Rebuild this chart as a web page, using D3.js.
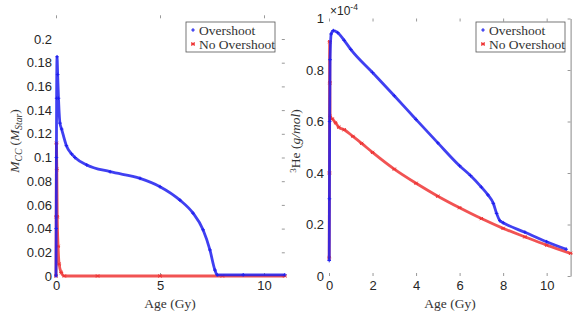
<!DOCTYPE html>
<html>
<head>
<meta charset="utf-8">
<script src="https://cdn.jsdelivr.net/npm/d3@7"></script>
<style>
  body { margin: 0; background: #fff; }
  svg { display: block; }
  .tick text { font-family: "Liberation Sans", Arial, sans-serif; font-size: 13px; fill: #262626; }
  .lab { font-family: "Liberation Serif", "Times New Roman", serif; font-size: 13.5px; fill: #333; }
</style>
</head>
<body>
<div id="chart"></div>
<script>
// ---- data ----
// left panel: convective core mass (M_star) vs age (Gy)
var ccOverAge = [0, 0.01, 0.02, 0.03, 0.05, 0.08, 0.12, 0.19, 0.27, 0.5, 0.75, 0.91, 1.48, 2.6, 4.04, 5.0, 5.96, 6.59, 7.07, 7.4, 7.64, 7.75, 9, 11];
var ccOverVal = [0, 0.04, 0.1, 0.15, 0.185, 0.17, 0.15, 0.129, 0.124, 0.11, 0.103, 0.1, 0.0937, 0.088, 0.0824, 0.0754, 0.064, 0.053, 0.039, 0.022, 0.005, 0.001, 0.001, 0.001];
var ccNoAge = [0, 0.01, 0.02, 0.04, 0.06, 0.1, 0.15, 0.25, 0.4, 2, 5, 8, 11];
var ccNoVal = [0, 0.05, 0.112, 0.09, 0.05, 0.025, 0.01, 0.003, 0, 0, 0, 0, 0];

// right panel: 3He (g/mol), in units of 1e-4, vs age (Gy)
var heOverAge = [0.01, 0.02, 0.03, 0.05, 0.1, 0.2, 0.4, 0.7, 1, 2, 3, 4, 5, 6, 6.5, 7, 7.3, 7.55, 7.7, 7.85, 8, 9, 10, 10.9];
var heOverVal = [0.06, 0.3, 0.6, 0.84, 0.94, 0.953, 0.945, 0.915, 0.88, 0.79, 0.7, 0.608, 0.517, 0.428, 0.39, 0.345, 0.315, 0.282, 0.243, 0.215, 0.207, 0.17, 0.133, 0.104];
var heNoAge = [0.01, 0.02, 0.03, 0.04, 0.05, 0.15, 0.3, 0.45, 0.7, 1.1, 1.5, 2, 3, 4, 5, 6, 7, 8, 9, 10, 11.1];
var heNoVal = [0.07, 0.4, 0.91, 0.75, 0.62, 0.61, 0.595, 0.578, 0.568, 0.542, 0.515, 0.48, 0.415, 0.36, 0.31, 0.265, 0.223, 0.185, 0.152, 0.12, 0.088];

var leftYTicks = [0, 0.02, 0.04, 0.06, 0.08, 0.1, 0.12, 0.14, 0.16, 0.18, 0.2];
var leftXTicks = [0, 5, 10];
var rightYTicks = [0, 0.2, 0.4, 0.6, 0.8, 1];
var rightXTicks = [0, 2, 4, 6, 8, 10];
var seriesNames = ["Overshoot", "No Overshoot"];

var blue = "#1f1fee", red = "#ee3535";

var width = 581, height = 314;
var svg = d3.select("#chart").append("svg")
    .attr("width", width)
    .attr("height", height);

function zip(a, b) { return a.map(function (d, i) { return [d, b[i]]; }); }

function panel(opt) {
  var x = d3.scaleLinear().domain(opt.xdom).range(opt.xr);
  var y = d3.scaleLinear().domain(opt.ydom).range(opt.yr);
  var g = svg.append("g");

  // bottom axis
  g.append("g")
    .attr("class", "x axis")
    .attr("transform", "translate(0," + opt.yr[0] + ")")
    .call(d3.axisBottom(x).tickValues(opt.xt).tickSizeInner(-3).tickSizeOuter(0).tickPadding(5).tickFormat(d3.format("d")))
    .call(function (s) { s.select(".domain").remove(); s.selectAll("line").attr("stroke", "#999"); });
  // top ticks
  g.append("g")
    .attr("transform", "translate(0," + opt.yr[1] + ")")
    .call(d3.axisTop(x).tickValues(opt.xt).tickSizeInner(-3).tickSizeOuter(0).tickFormat(""))
    .call(function (s) { s.select(".domain").remove(); s.selectAll("line").attr("stroke", "#999"); });
  // left axis
  g.append("g")
    .attr("class", "y axis")
    .attr("transform", "translate(" + opt.xr[0] + ",0)")
    .call(d3.axisLeft(y).tickValues(opt.yt).tickSizeInner(0).tickSizeOuter(0).tickPadding(opt.ypad).tickFormat(opt.yfmt))
    .call(function (s) { s.select(".domain").remove(); });
  // right ticks
  g.append("g")
    .attr("transform", "translate(" + opt.xr[1] + ",0)")
    .call(d3.axisRight(y).tickValues(opt.yt).tickSizeInner(-3).tickSizeOuter(0).tickFormat(""))
    .call(function (s) {
      s.select(".domain").attr("stroke", opt.rightLine ? "#888" : "none");
      s.selectAll("line").attr("stroke", "#999");
    });

  var line = d3.line()
    .curve(d3.curveMonotoneX)
    .x(function (d) { return x(d[0]); })
    .y(function (d) { return y(d[1]); });

  function series(data, color, kind) {
    g.append("path")
      .datum(data)
      .attr("d", line)
      .attr("fill", "none")
      .attr("stroke", color)
      .attr("stroke-opacity", 0.85)
      .attr("stroke-width", 2.8);
    g.append("g").selectAll("path.m")
      .data(data)
      .enter().append("path")
      .attr("class", "m")
      .attr("transform", function (d) { return "translate(" + x(d[0]) + "," + y(d[1]) + ")"; })
      .attr("d", kind === "plus" ? "M-1.8,0H1.8M0,-1.8V1.8" : "M-1.6,-1.6L1.6,1.6M-1.6,1.6L1.6,-1.6M-2,0H2")
      .attr("stroke", color)
      .attr("stroke-width", 1)
      .attr("fill", "none");
  }
  series(zip(opt.noAge, opt.noVal), red, "star");
  series(zip(opt.overAge, opt.overVal), blue, "plus");

  // axis labels
  g.append("text")
    .attr("class", "lab")
    .attr("x", opt.xlabX)
    .attr("y", 308)
    .attr("text-anchor", "middle")
    .text("Age (Gy)");

  // legend
  var lx = opt.legX, ly = 22;
  g.append("rect")
    .attr("x", lx).attr("y", ly)
    .attr("width", 89).attr("height", 30)
    .attr("fill", "#fff")
    .attr("stroke", "#555")
    .attr("stroke-width", 0.8);
  [blue, red].forEach(function (c, i) {
    var yy = ly + 8 + i * 14;
    g.append("path")
      .attr("transform", "translate(" + (lx + 7) + "," + yy + ")")
      .attr("d", i === 0 ? "M-1.8,0H1.8M0,-1.8V1.8" : "M-1.6,-1.6L1.6,1.6M-1.6,1.6L1.6,-1.6M-2,0H2")
      .attr("stroke", c).attr("stroke-width", 1.2);
    g.append("text")
      .attr("class", "lab")
      .attr("x", lx + 13)
      .attr("y", yy + 4.5)
      .text(seriesNames[i]);
  });
  return g;
}

// left panel
var gl = panel({
  xdom: [0, 11], xr: [56, 284.8],
  ydom: [0, 0.22], yr: [276, 15.3],
  xt: leftXTicks, yt: leftYTicks, ypad: 4,
  yfmt: function (d) { return d === 0 ? "0" : d3.format(".2~f")(d); },
  overAge: ccOverAge, overVal: ccOverVal, noAge: ccNoAge, noVal: ccNoVal,
  xlabX: 170, legX: 186, rightLine: false
});
var tl = gl.append("text")
  .attr("class", "lab")
  .attr("transform", "translate(19,141) rotate(-90)")
  .attr("text-anchor", "middle");
tl.append("tspan").attr("font-style", "italic").text("M");
tl.append("tspan").attr("font-style", "italic").attr("font-size", "9.5px").attr("dy", 3).text("CC");
tl.append("tspan").attr("dy", -3).text(" (");
tl.append("tspan").attr("font-style", "italic").text("M");
tl.append("tspan").attr("font-style", "italic").attr("font-size", "9.5px").attr("dy", 3).text("Star");
tl.append("tspan").attr("dy", -3).text(")");

// right panel
var gr = panel({
  xdom: [0, 11.1], xr: [329, 570.6],
  ydom: [0, 1], yr: [276, 18.5],
  xt: rightXTicks, yt: rightYTicks, ypad: 5,
  yfmt: function (d) { return d3.format("~g")(d); },
  overAge: heOverAge, overVal: heOverVal, noAge: heNoAge, noVal: heNoVal,
  xlabX: 450, legX: 476, rightLine: true
});
var tr = gr.append("text")
  .attr("class", "lab")
  .attr("transform", "translate(300,141) rotate(-90)")
  .attr("text-anchor", "middle");
tr.append("tspan").attr("font-size", "9px").attr("dy", -4).text("3");
tr.append("tspan").attr("dy", 4).text("He (");
tr.append("tspan").attr("font-style", "italic").text("g/mol");
tr.append("tspan").text(")");

var ex = gr.append("text")
  .attr("x", 330).attr("y", 15)
  .style("font-family", "Liberation Sans, Arial, sans-serif")
  .style("font-size", "12px")
  .style("fill", "#262626");
ex.append("tspan").text("\u00d710");
ex.append("tspan").attr("font-size", "8.5px").attr("dy", -5).text("-4");
</script>
</body>
</html>
